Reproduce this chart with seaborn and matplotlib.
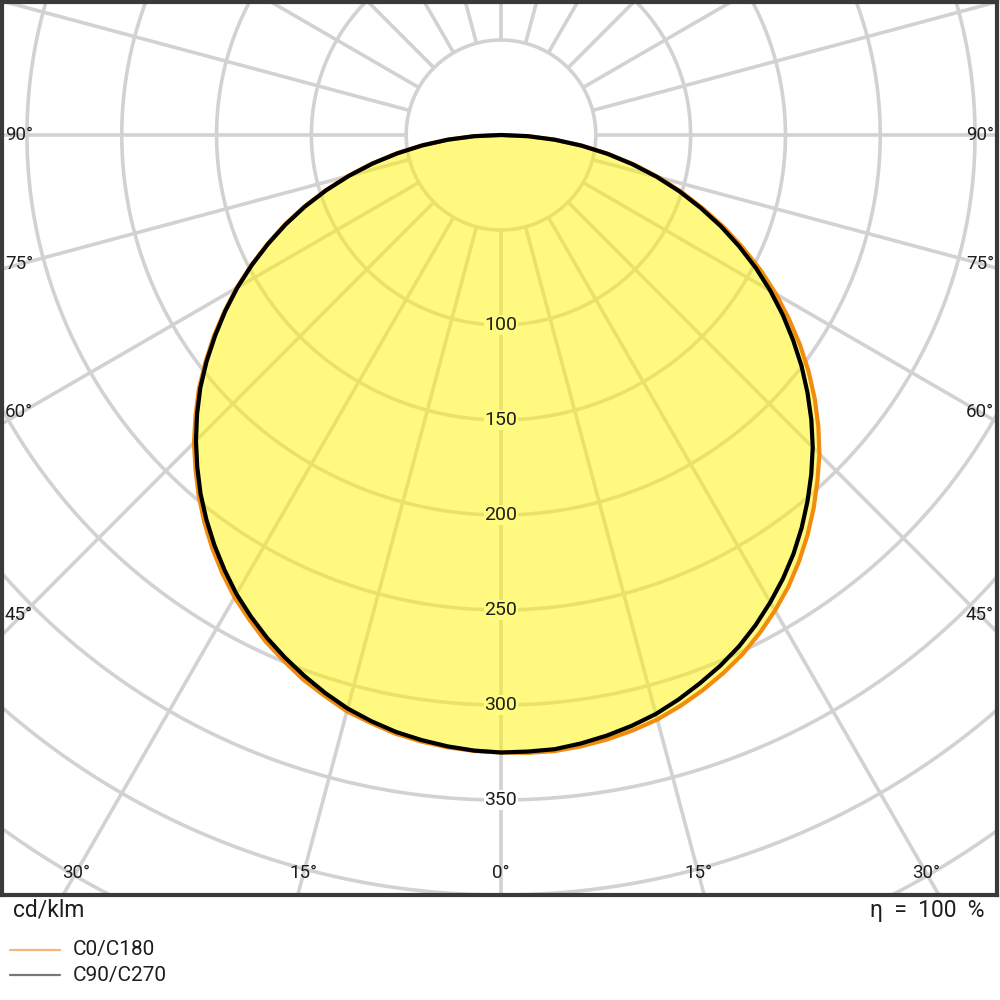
import numpy as np
import pandas as pd
import seaborn as sns
import matplotlib.pyplot as plt
from matplotlib.lines import Line2D

# luminous intensity distribution, cd/klm, gamma angle in degrees
gamma = [0, 2.5, 5, 7.5, 10, 12.5, 15, 17.5, 20, 22.5, 25, 27.5, 30, 32.5, 35, 37.5,
         40, 42.5, 45, 47.5, 50, 52.5, 55, 57.5, 60, 62.5, 65, 67.5, 70, 72.5, 75, 77.5,
         80, 82.5, 85, 87.5, 90]
c0 = [325, 325.5, 325.5, 324.5, 323, 321, 318.5, 315, 311, 306.5, 301.5, 295.5, 289, 282,
      274, 265.5, 256.5, 247, 237.5, 227, 216, 204.5, 192.5, 180, 167.5, 154.5, 141, 127.5,
      113.5, 100, 86, 72, 57.5, 43, 28.5, 14.2, 0]
c180 = [325, 324.5, 323.5, 322, 320, 317, 314, 309.5, 305, 299.5, 294, 287.5, 281, 273.5,
        265.5, 257, 248, 238.5, 229, 218.5, 208, 196.5, 185, 173, 161, 148.5, 136, 123.5,
        110.5, 97, 83.5, 70, 56, 42, 28, 14, 0]
c90 = [325, 324.8, 324.5, 323, 321, 318.5, 315.5, 311.5, 307, 302.3, 297, 290.8, 284, 276.8,
       269, 260.5, 251.5, 242.2, 232.5, 222, 211, 199.8, 188, 176.2, 164, 151.5, 138.5, 125.5,
       112, 98.7, 85, 71, 57, 42.8, 28.5, 14.3, 0]
c270 = [325, 324.3, 323, 321.2, 319, 316, 312.5, 308, 303, 297.7, 292, 285.7, 279, 271.4,
        263.5, 255.2, 246.5, 237.1, 227.5, 217.4, 207, 195.7, 184, 172.4, 160.5, 148.1, 135.5,
        122.9, 110, 96.6, 83, 69.3, 55.5, 41.8, 28, 14, 0]

ring_values = [100, 150, 200, 250, 300, 350]
side_labels = [90, 75, 60, 45]
bottom_labels = [30, 15, 0, 15, 30]
bottom_angles = [-30, -15, 0, 15, 30]


def plane_xy(left, right, name):
    g = np.radians(gamma)
    gl, il = g[::-1], np.array(left)[::-1]
    gr, ir = g[1:], np.array(right)[1:]
    x = np.concatenate([-il * np.sin(gl), ir * np.sin(gr)])
    y = np.concatenate([-il * np.cos(gl), -ir * np.cos(gr)])
    return pd.DataFrame({'x': x, 'y': y, 'plane': name})


curves = pd.concat([plane_xy(c180, c0, 'C0/C180'), plane_xy(c270, c90, 'C90/C270')],
                   ignore_index=True)

sns.set_theme(style='white')
plt.rcParams['font.family'] = ['Roboto', 'DejaVu Sans']
txt = dict(fontweight='normal', color='#1e1e1e')

fig = plt.figure(figsize=(10, 10), dpi=100)
ax = fig.add_axes([0.002, 0.105, 0.995, 0.893])
ax.set_xlim(-500 / 1.9, 497 / 1.9)
ax.set_ylim(-(895 - 135) / 1.9, 133 / 1.9)

# polar grid
grid_col = '#d2d2d2'
t = np.linspace(0, 2 * np.pi, 721)
for r in range(50, 551, 50):
    ax.plot(r * np.sin(t), -r * np.cos(t), color=grid_col, lw=2.6, zorder=1)
for a in range(0, 360, 15):
    ar = np.radians(a)
    ax.plot([50 * np.sin(ar), 700 * np.sin(ar)], [-50 * np.cos(ar), -700 * np.cos(ar)],
            color=grid_col, lw=2.6, zorder=1, solid_capstyle='butt')

# fill under the outer curve
outer = curves[curves['plane'] == 'C0/C180']
ax.fill(outer['x'], outer['y'], color='#FFF500', alpha=0.5, lw=0, zorder=2)

sns.lineplot(data=curves, x='x', y='y', hue='plane', palette=['#F28C0F', '#000000'],
             sort=False, estimator=None, linewidth=3.0, legend=False, ax=ax, zorder=4)
for ln in ax.lines[-2:]:
    ln.set_solid_joinstyle('round')

for v in ring_values:
    bg = '#FFFA80' if v < 320 else 'white'
    ax.text(0, -v, str(v), ha='center', va='center', fontsize=14, zorder=3,
            bbox=dict(boxstyle='square,pad=0.05', fc=bg, ec='none'), **txt)

# angle labels along the frame
for a in side_labels:
    yl = -(480 / 1.9) / np.tan(np.radians(a)) if a != 90 else 0
    ax.text(-497 / 1.9, yl, f'{a}°', ha='left', va='center', fontsize=13.5, zorder=5, **txt)
    ax.text(494 / 1.9, yl, f'{a}°', ha='right', va='center', fontsize=13.5, zorder=5, **txt)
ylab = -(873 - 135) / 1.9
for lab, a in zip(bottom_labels, bottom_angles):
    xl = -ylab * np.tan(np.radians(a))
    ax.text(xl, ylab, f'{lab}°', ha='center', va='center', fontsize=13.5, zorder=5, **txt)

ax.set_xticks([])
ax.set_yticks([])
ax.set_xlabel('')
ax.set_ylabel('')
for s in ax.spines.values():
    s.set_visible(True)
    s.set_color('#3a3a3a')
    s.set_linewidth(3.0)

fig.text(0.013, 1 - 0.910, 'cd/klm', ha='left', va='center', fontsize=16.5, **txt)
fig.text(0.985, 1 - 0.910, 'η  =  100  %', ha='right', va='center', fontsize=16.5, **txt)
fig.add_artist(Line2D([0.010, 0.060], [1 - 0.950, 1 - 0.950], color='#F5B679', lw=1.6,
                      transform=fig.transFigure))
fig.add_artist(Line2D([0.010, 0.060], [1 - 0.975, 1 - 0.975], color='#777777', lw=1.6,
                      transform=fig.transFigure))
fig.text(0.073, 1 - 0.950, 'C0/C180', ha='left', va='center', fontsize=15, **txt)
fig.text(0.073, 1 - 0.975, 'C90/C270', ha='left', va='center', fontsize=15, **txt)

fig.savefig('out.png', dpi=100, facecolor='white')
